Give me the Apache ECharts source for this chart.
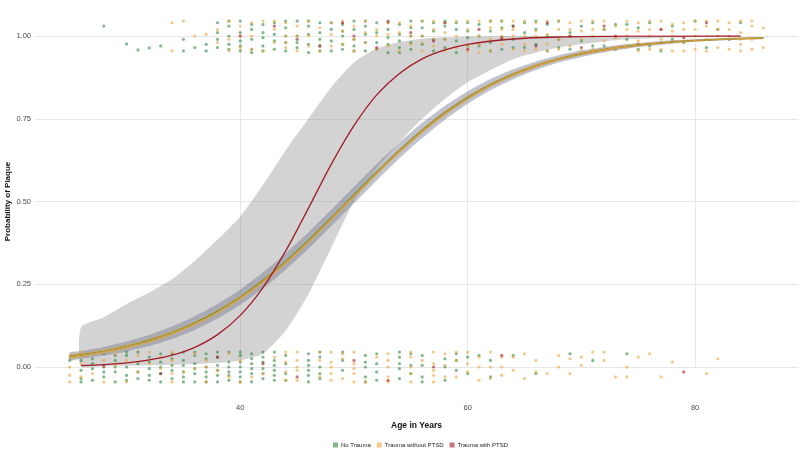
<!DOCTYPE html>
<html><head><meta charset="utf-8">
<script src="https://cdn.jsdelivr.net/npm/echarts@6/dist/echarts.min.js"></script>
<style>html,body{margin:0;padding:0;background:#fff}#c{width:800px;height:449px}</style>
</head><body><div id="c"></div>
<script>
// ---------- data ----------
const xTicks = [40, 60, 80];
const yTicks = [0, 0.25, 0.5, 0.75, 1];
const groupNames = ['No Trauma', 'Trauma without PTSD', 'Trauma with PTSD'];

const fitAges = [25,26,28,30,32,34,36,38,40,42,44,46,48,50,52,54,56,58,60,62,64,66,68,70,72,74,76,78,80,82,84,86];
const noTraumaFit = [.0320,.0366,.0478,.0621,.0805,.1037,.1327,.1682,.2110,.2612,.3187,.3822,.4500,.5197,.5886,.6543,.7146,.7681,.8142,.8529,.8846,.9102,.9306,.9466,.9591,.9688,.9762,.9819,.9863,.9896,.9921,.9940];
const noTraumaLow = [.0200,.0246,.0348,.0471,.0635,.0847,.1117,.1462,.1880,.2372,.2937,.3572,.4250,.4947,.5636,.6303,.6916,.7471,.7952,.8359,.8696,.8972,.9196,.9366,.9511,.9618,.9702,.9769,.9823,.9861,.9891,.9915];
const noTraumaHigh = [.0440,.0486,.0608,.0771,.0975,.1227,.1537,.1902,.2340,.2852,.3437,.4072,.4750,.5447,.6136,.6783,.7376,.7891,.8332,.8699,.8996,.9232,.9416,.9566,.9671,.9758,.9822,.9869,.9903,.9931,.9951,.9965];
const traumaFit = [.0314,.0359,.0470,.0612,.0794,.1025,.1313,.1666,.2092,.2592,.3165,.3799,.4477,.5175,.5866,.6525,.7130,.7668,.8131,.8520,.8839,.9097,.9302,.9463,.9589,.9686,.9761,.9818,.9862,.9895,.9921,.9940];
const traumaLow = [.0244,.0289,.0400,.0542,.0724,.0955,.1243,.1596,.2022,.2522,.3095,.3729,.4407,.5105,.5796,.6455,.7060,.7598,.8061,.8460,.8779,.9037,.9252,.9413,.9539,.9646,.9721,.9778,.9832,.9865,.9891,.9910];
const traumaHigh = [.0384,.0429,.0540,.0682,.0864,.1095,.1383,.1736,.2162,.2662,.3235,.3869,.4547,.5245,.5936,.6595,.7200,.7738,.8201,.8580,.8899,.9157,.9352,.9513,.9639,.9726,.9801,.9858,.9892,.9925,.9951,.9970];

const ptsdAges = [26,28,30,32,34,36,38,40,42,44,46,48,50,52,54,56,58,60,64,68,74,84];
const ptsdFit = [.0043,.0074,.0125,.0212,.0357,.0595,.0978,.156,.240,.351,.480,.612,.729,.822,.887,.931,.958,.975,.991,.997,.9994,1.0];
const ptsdLow = [.002,.003,.004,.005,.007,.009,.013,.02,.04,.11,.22,.36,.5,.6,.68,.75,.81,.86,.93,.965,.99,.999];
const ptsdHigh = [.12,.15,.19,.225,.265,.32,.385,.455,.55,.655,.75,.845,.92,.962,.982,.992,.996,.998,1,1,1,1];

const noTraumaPts = [
[28,1.03],[30,0.976],[31,0.958],[32,0.964],[33,0.97],[35,0.99],[35,0.955],[36,0.965],[37,0.975],[37,0.955],
[38,1.04],[38,0.99],[38,0.965],[39,1.03],[39,1.0],[39,0.96],[39,0.975],[40,1.045],[40,1.01],[40,0.985],[40,0.955],
[41,1.02],[41,0.99],[41,0.96],[41,0.95],[42,1.035],[42,0.995],[42,0.97],[43,1.04],[43,1.005],[43,0.96],
[44,1.025],[44,0.98],[44,0.955],[45,1.045],[45,1.0],[45,0.965],[46,1.03],[46,0.975],[46,0.95],
[47,1.04],[47,1.01],[47,0.97],[48,1.02],[48,0.985],[48,0.955],[49,1.035],[49,1.0],[49,0.96],
[50,1.045],[50,0.99],[50,0.97],[51,1.03],[51,1.005],[51,0.955],[52,1.04],[52,0.98],[52,0.96],
[53,1.02],[53,0.995],[53,0.95],[54,1.035],[54,0.985],[54,0.965],[55,1.045],[55,1.0],[55,0.96],
[56,1.025],[56,0.975],[57,1.04],[57,0.99],[57,0.955],[58,1.03],[58,0.965],[59,1.02],[59,0.985],[59,0.95],
[60,1.04],[60,0.995],[61,1.035],[61,0.97],[62,1.045],[62,0.98],[62,0.955],[63,1.025],[63,0.96],
[64,1.03],[64,0.99],[65,1.04],[65,0.965],[66,1.02],[66,0.975],[67,1.035],[67,0.955],[68,1.045],[68,0.99],
[69,1.01],[69,0.96],[70,1.03],[71,1.04],[71,0.97],[72,1.02],[73,1.035],[73,0.96],[74,0.99],[75,1.025],
[76,1.04],[76,0.97],[77,0.955],[78,1.03],[79,0.98],[80,1.045],[81,0.965],[82,1.02],[84,1.04],
[38,1.01],[39,1.045],[40,0.97],[41,1.035],[42,1.01],[42,0.955],[43,0.985],[44,1.045],[44,1.0],[45,0.98],
[46,1.045],[46,1.005],[47,0.99],[47,0.955],[48,1.04],[49,1.015],[49,0.975],[50,1.02],[50,0.955],[51,1.045],
[51,0.98],[52,1.01],[53,1.04],[53,0.975],[54,1.005],[54,0.95],[55,1.025],[55,0.98],[56,1.045],[56,1.0],
[57,1.015],[58,1.045],[58,0.99],[59,1.04],[60,1.015],[60,0.97],[61,1.0],[62,1.015],[63,1.045],[63,0.99],
[64,0.965],[65,1.01],[66,1.045],[67,1.0],[68,0.965],[70,0.985],[72,0.97],[74,1.035],[75,0.96],[78,0.99],
[26,0.035],[26,-0.01],[26,-0.035],[27,0.025],[27,-0.005],[27,-0.04],[28,0.04],[28,0.005],[28,-0.03],
[29,0.02],[29,-0.015],[29,-0.045],[30,0.035],[30,0.0],[30,-0.025],[31,0.045],[31,0.01],[31,-0.035],
[32,0.03],[32,-0.005],[32,-0.04],[33,0.04],[33,0.015],[33,-0.02],[33,-0.045],[34,0.025],[34,-0.01],[34,-0.035],
[35,0.045],[35,0.005],[35,-0.03],[36,0.035],[36,0.01],[36,-0.02],[36,-0.045],[37,0.04],[37,0.0],[37,-0.03],
[38,0.03],[38,0.005],[38,-0.025],[38,-0.045],[39,0.045],[39,0.015],[39,-0.015],[39,-0.04],
[40,0.035],[40,0.0],[40,-0.03],[41,0.04],[41,0.01],[41,-0.02],[41,-0.045],[42,0.03],[42,-0.005],[42,-0.035],
[43,0.045],[43,0.02],[43,-0.01],[43,-0.04],[44,0.035],[44,-0.02],[46,0.04],[46,0.005],[46,-0.025],[46,-0.045],
[47,0.03],[47,0.0],[47,-0.035],[49,0.045],[49,-0.01],[51,0.035],[51,0.0],[51,-0.03],[52,0.04],[52,0.01],[52,-0.04],
[54,0.03],[54,-0.005],[54,-0.035],[55,0.04],[55,-0.02],[56,0.035],[56,0.005],[56,-0.03],[58,0.025],[58,-0.04],
[59,0.04],[59,-0.01],[60,0.03],[62,0.02],[62,-0.03],[64,0.035],[66,-0.02],[69,0.04],[71,0.02],[74,0.04],
[25,0.02],[26,0.02],[26,-0.045],[27,0.04],[27,0.01],[28,-0.015],[29,0.035],[29,0.0],[30,0.045],[30,-0.04],
[31,-0.015],[32,0.015],[32,-0.025],[33,0.0],[34,0.04],[34,0.005],[35,0.02],[35,-0.015],[35,-0.045],[36,0.045],
[36,-0.005],[37,0.025],[37,-0.015],[37,-0.045],[38,0.045],[38,-0.01],[39,0.0],[39,-0.025],[40,0.045],[40,0.015],
[40,-0.015],[40,-0.045],[41,0.025],[41,-0.005],[42,0.045],[42,0.015],[42,-0.02],[43,0.005],[43,-0.025],[44,0.01],
[44,-0.04],[46,0.02],[46,-0.01],[47,0.045],[47,-0.02],[49,0.02],[51,0.015],[51,-0.045],[52,-0.015],[54,0.045],
[54,0.01],[55,0.005],[56,-0.045],[58,0.0],[59,0.02],[60,-0.02],[61,0.035]
];
const traumaPts = [
[34,1.04],[34,0.955],[35,1.045],[36,1.0],[37,1.005],[38,1.02],[38,0.98],[39,1.045],[39,0.99],[39,0.955],
[40,1.03],[40,0.965],[41,1.04],[41,1.0],[42,1.045],[42,0.955],[43,1.02],[43,0.98],[44,1.04],[44,1.0],[44,0.965],
[45,1.03],[45,0.955],[46,1.045],[46,1.0],[47,1.025],[47,0.955],[48,1.04],[48,0.97],[49,1.015],[49,0.975],
[50,1.03],[50,0.955],[51,1.045],[51,0.98],[52,1.02],[52,1.0],[53,1.04],[53,0.97],[54,1.01],[54,0.955],
[55,1.03],[55,0.975],[56,1.045],[56,1.0],[56,0.955],[57,1.02],[57,0.97],[58,1.04],[58,0.99],[58,0.955],
[59,1.045],[59,1.0],[60,1.02],[60,0.97],[60,0.955],[61,1.045],[61,1.0],[61,0.95],[62,1.025],[62,0.99],
[63,1.045],[63,1.0],[63,0.975],[64,1.02],[64,0.96],[65,1.045],[65,1.0],[65,0.955],[66,1.04],[66,1.0],[66,0.96],
[67,1.045],[67,1.005],[67,0.975],[68,1.02],[68,0.96],[69,1.04],[69,1.0],[69,0.97],[70,1.045],[70,0.99],[70,0.955],
[71,1.02],[71,1.0],[71,0.96],[72,1.045],[72,0.985],[72,0.955],[73,1.03],[73,0.995],[74,1.045],[74,1.0],[74,0.965],
[75,1.04],[75,0.985],[75,0.955],[76,1.02],[76,1.0],[77,1.045],[77,0.99],[77,0.96],[78,1.035],[78,1.0],[78,0.955],
[79,1.04],[79,0.98],[80,1.045],[80,1.0],[80,0.96],[81,1.03],[81,0.99],[81,0.955],[82,1.045],[82,1.0],[82,0.965],
[83,1.04],[83,1.0],[83,0.96],[84,1.045],[84,1.01],[84,0.975],[84,0.955],[85,1.03],[85,0.99],[85,0.96],[86,1.025],[86,0.965],
[40,1.0],[41,0.96],[43,1.045],[44,0.98],[45,1.0],[46,0.97],[48,1.005],[49,1.045],[50,0.99],[51,1.01],
[52,0.96],[53,1.005],[54,1.04],[55,1.0],[56,0.98],[57,1.045],[57,0.99],[58,1.01],[59,0.965],[60,1.045],
[61,0.975],[62,1.045],[62,0.955],[63,1.02],[64,1.045],[64,1.0],[65,0.975],[66,1.015],[67,0.955],[68,1.045],
[68,0.99],[69,1.02],[70,1.015],[71,1.045],[72,1.02],[73,0.96],[74,1.02],[75,1.015],[76,1.045],[76,0.96],
[77,1.02],[78,1.015],[79,1.02],[79,0.955],[80,1.02],[81,1.045],[82,1.02],[83,1.02],[84,0.99],[85,1.045],
[25,0.0],[25,-0.025],[25,-0.045],[26,0.045],[26,0.01],[27,-0.02],[28,-0.045],[29,0.04],[29,0.005],[30,-0.045],
[31,-0.015],[32,0.045],[32,0.01],[33,-0.005],[34,0.045],[34,0.02],[34,-0.045],[35,-0.015],[36,-0.005],
[37,0.02],[37,-0.045],[38,-0.01],[39,-0.03],[40,0.02],[40,-0.045],[42,-0.02],[44,0.045],[44,0.015],[44,-0.04],
[45,0.045],[45,0.02],[45,-0.01],[45,-0.04],[47,0.045],[48,0.045],[48,0.015],[48,-0.02],[48,-0.04],
[49,0.025],[49,-0.035],[50,0.045],[50,0.01],[50,-0.02],[50,-0.045],[51,-0.045],[53,0.04],[53,0.0],[53,-0.03],
[55,0.03],[55,0.0],[55,-0.045],[57,0.045],[57,0.01],[57,-0.025],[57,-0.045],[58,0.04],[58,0.005],
[59,0.02],[59,-0.03],[60,0.045],[60,-0.015],[61,0.03],[61,-0.04],[62,0.045],[62,0.0],[63,0.03],[63,-0.025],
[64,-0.01],[65,0.04],[65,-0.035],[66,0.02],[67,-0.02],[68,0.035],[69,0.025],[69,-0.02],[70,0.005],[71,0.045],
[72,0.045],[73,-0.03],[74,0.0],[74,-0.03],[75,0.03],[77,-0.03],[78,0.015],[81,-0.02],[82,0.025],
[25,0.03],[26,-0.03],[28,0.02],[30,0.02],[31,0.035],[33,0.03],[34,-0.02],[36,0.04],[37,0.0],[39,0.04],
[41,-0.03],[43,0.03],[44,-0.015],[45,0.0],[47,0.02],[47,-0.03],[48,0.0],[49,0.04],[50,-0.005],[52,0.03],
[53,0.02],[53,-0.045],[55,0.045],[55,-0.02],[56,0.02],[57,-0.01],[58,-0.03],[59,0.045],[60,0.01],[61,0.0],
[62,-0.035],[63,0.0],[64,0.03],[66,-0.015],[68,0.0],[70,0.03],[72,0.02],[76,0.04]
];
const ptsdPts = [
[40,1.0],[43,1.03],[45,0.99],[47,0.97],[49,1.04],[50,1.0],[52,0.965],[53,1.045],[55,1.01],[57,0.985],[58,1.04],
[60,0.96],[61,1.02],[63,0.995],[64,1.03],[66,0.97],[67,1.04],[69,1.0],[70,0.965],[72,1.03],[73,1.0],[75,0.975],
[77,1.02],[79,0.995],[81,1.04],[83,0.99],
[28,0.0],[33,-0.02],[38,0.03],[42,0.01],[45,-0.03],[50,0.02],[53,-0.04],[57,0.0],[63,0.035],[79,-0.015]
];

// ---------- styles ----------
const colNT = '#2f8a3c', colTR = '#eea53c', colPT = '#a31b25';
const FONT = 'Liberation Sans, Arial, sans-serif';

function pairs(xs, ys){ return xs.map((x,i)=>[x, ys[i]]); }
function band(id, xs, lo, hi, color, z){
  return {
    type:'custom', name:id, silent:true, z:z, clip:false,
    data: pairs(xs, hi), encode:{x:0, y:1},
    renderItem: function(params, api){
      if (params.dataIndex !== 0) return null;
      const top = xs.map((x,i)=>api.coord([x, hi[i]]));
      const bot = xs.map((x,i)=>api.coord([x, lo[i]])).reverse();
      return {type:'polygon', shape:{points: top.concat(bot), smooth:0.2}, style:{fill:color}};
    }
  };
}
function pts(name, data, color){
  return {type:'scatter', name:name, data:data, symbolSize:3.2, clip:false,
    itemStyle:{color:color, opacity:0.6}, z:4, silent:true};
}
function fit(name, xs, ys, color, w, z){
  return {type:'line', name:name, data:pairs(xs, ys), smooth:0.35, symbol:'none',
    lineStyle:{color:color, width:w}, itemStyle:{color:color}, z:z, silent:true};
}

const chart = echarts.init(document.getElementById('c'), null, {renderer:'canvas'});
chart.setOption({
  animation:false,
  backgroundColor:'#ffffff',
  textStyle:{fontFamily:FONT},
  grid:{left:35, right:2, top:36, bottom:82, containLabel:false, outerBoundsMode:'none'},
  legend:{
    data:[{name:groupNames[0], itemStyle:{color:colNT}},{name:groupNames[1], itemStyle:{color:colTR}},{name:groupNames[2], itemStyle:{color:colPT}}],
    left:328, top:437, icon:'rect', itemWidth:5, itemHeight:5, itemGap:6,
    textStyle:{fontSize:6, color:'#222', fontFamily:FONT, padding:[0,0,0,-2]}, selectedMode:false
  },
  xAxis:{
    type:'value', min:21.95, max:89.05,
    name:'Age in Years', nameLocation:'middle', nameGap:54, nameMoveOverlap:false,
    nameTextStyle:{fontSize:8.5, fontWeight:'bold', color:'#111', fontFamily:FONT},
    axisLine:{show:false}, axisTick:{show:false, customValues:xTicks},
    axisLabel:{customValues:xTicks, margin:37, fontSize:7.5, color:'#4d4d4d', fontFamily:FONT},
    splitLine:{show:true, lineStyle:{color:'#e6e6e6', width:1}}
  },
  yAxis:{
    type:'value', min:0, max:1, interval:0.25,
    name:'Probability of Plaque', nameLocation:'middle', nameGap:23, nameRotate:90, nameMoveOverlap:false,
    nameTextStyle:{fontSize:8, fontWeight:'bold', color:'#111', fontFamily:FONT},
    axisLine:{show:false}, axisTick:{show:false},
    axisLabel:{margin:4, fontSize:7.5, color:'#4d4d4d', fontFamily:FONT, formatter:v=>v.toFixed(2)},
    splitLine:{show:true, lineStyle:{color:'#e6e6e6', width:1}}
  },
  series:[
    band('bandPT', ptsdAges, ptsdLow, ptsdHigh, 'rgba(150,150,150,0.42)', 1),
    band('bandNT', fitAges, noTraumaLow, noTraumaHigh, 'rgba(115,122,145,0.45)', 2),
    pts(groupNames[0], noTraumaPts, colNT),
    pts(groupNames[1], traumaPts, colTR),
    pts(groupNames[2], ptsdPts, colPT),
    band('bandTR', fitAges, traumaLow, traumaHigh, 'rgba(198,168,110,0.9)', 5),
    fit(groupNames[0], fitAges, noTraumaFit, colNT, 1.1, 6),
    fit(groupNames[1], fitAges, traumaFit, '#e39b2f', 1.1, 7),
    fit(groupNames[2], ptsdAges, ptsdFit, colPT, 1.3, 8)
  ]
});
</script></body></html>
